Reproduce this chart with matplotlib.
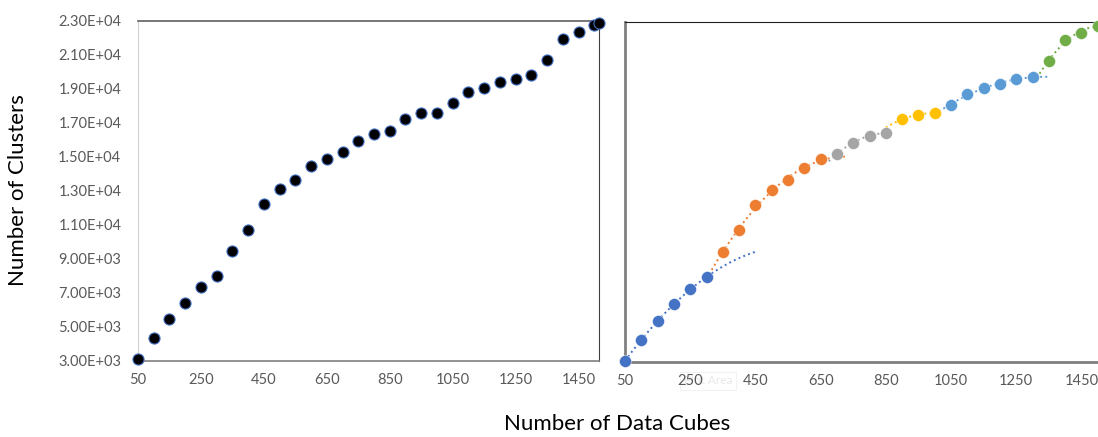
import numpy as np
import matplotlib
matplotlib.use("Agg")
import matplotlib.pyplot as plt

plt.rcParams['font.family'] = ['Lato', 'DejaVu Sans']

# all data cubes vs clusters (left panel)
cubes_all = [50, 100, 150, 200, 250, 300, 350, 400, 450, 500, 550, 600, 650, 700,
             750, 800, 850, 900, 950, 1000, 1050, 1100, 1150, 1200, 1250, 1300,
             1350, 1400, 1450, 1500, 1515]
clusters_all = [3100, 4350, 5430, 6410, 7330, 7970, 9450, 10690, 12240, 13080,
                13630, 14450, 14880, 15260, 15920, 16340, 16490, 17220, 17590,
                17590, 18140, 18820, 19020, 19390, 19550, 19790, 20670, 21910,
                22330, 22730, 22850]

# segmented series (right panel)
seg_x = [
    [50, 100, 150, 200, 250, 300],
    [350, 400, 450, 500, 550, 600, 650],
    [700, 750, 800, 850],
    [900, 950, 1000],
    [1050, 1100, 1150, 1200, 1250, 1300],
    [1350, 1400, 1450, 1500],
]
seg_y = [
    [3060, 4280, 5380, 6380, 7300, 7970],
    [9450, 10780, 12250, 13100, 13690, 14400, 14930],
    [15240, 15910, 16320, 16460],
    [17280, 17560, 17640],
    [18140, 18790, 19110, 19360, 19640, 19780],
    [20720, 21960, 22370, 22800],
]
seg_colors = ['#4472C4', '#ED7D31', '#A5A5A5', '#FFC000', '#5B9BD5', '#70AD47']
# trendline extension (backward, forward) for each segment
trend_ext = [(0, 150), (50, 75), (25, 0), (50, 0), (50, 50), (45, 10)]

xticks = [50, 250, 450, 650, 850, 1050, 1250, 1450]
yticks = [3000, 5000, 7000, 9000, 11000, 13000, 15000, 17000, 19000, 21000, 23000]

W, H = 1098, 437
fig = plt.figure(figsize=(W / 100, H / 100), dpi=100)

tick_color = '#595959'

# left panel
ax1 = fig.add_axes([138 / W, 1 - 360.7 / H, 461 / W, 340 / H])
ax1.plot(cubes_all, clusters_all, 'o', color='black', ms=8, mec='#4472C4',
         mew=0.8, clip_on=False, zorder=3)
ax1.set_xlim(50, 1515)
ax1.set_ylim(3000, 23000)
ax1.set_xticks(xticks)
ax1.set_yticks(yticks)
ax1.set_yticklabels(['%.2fE+%02d' % (v / 10 ** int(np.log10(v)), int(np.log10(v)))
                     for v in yticks])
ax1.tick_params(length=0, labelsize=10.5, colors=tick_color)
ax1.tick_params(axis='y', pad=12)
ax1.tick_params(axis='x', pad=9)
ax1.spines['left'].set_color('#D0D0D0')
ax1.spines['bottom'].set_color('#808080')
ax1.spines['bottom'].set_linewidth(1.2)
ax1.spines['top'].set_color('#606060')
ax1.spines['top'].set_linewidth(1.2)
ax1.spines['right'].set_color('#404040')

# right panel, split into segments with quadratic trendlines
ax2 = fig.add_axes([625 / W, 1 - 361.7 / H, 476 / W, 339.4 / H])
for xs, ys, c, (back, fwd) in zip(seg_x, seg_y, seg_colors, trend_ext):
    coef = np.polyfit(xs, ys, 2)
    xt = np.linspace(xs[0] - back, xs[-1] + fwd, 100)
    ax2.plot(xt, np.polyval(coef, xt), ':', color=c, lw=1.4, zorder=2)
    ax2.plot(xs, ys, 'o', color=c, ms=8.6, mec='white', mew=0.3,
             clip_on=False, zorder=3)
ax2.set_xlim(50, 1510)
ax2.set_ylim(3000, 23000)
ax2.set_xticks(xticks)
ax2.set_yticks([])
ax2.tick_params(length=0, labelsize=10.5, colors=tick_color)
ax2.tick_params(axis='x', pad=9)
ax2.spines['left'].set_color('#808080')
ax2.spines['left'].set_linewidth(2)
ax2.spines['bottom'].set_color('#808080')
ax2.spines['bottom'].set_linewidth(2)
ax2.spines['top'].set_color('#202020')
ax2.spines['right'].set_visible(False)

# faint hover hint left on the chart, sitting behind the tick labels
fig.text(708 / W, 1 - 381 / H, 'Plot Area', fontsize=8.5, color='#E8E8E8',
         ha='center', va='center', zorder=-1,
         bbox=dict(boxstyle='square,pad=0.3', fc='white', ec='#F2F2F2', lw=0.8))

fig.text(18 / W, 1 - 190 / H, 'Number of Clusters', rotation=90, fontsize=16,
         ha='center', va='center', color='black')
fig.text(617 / W, 1 - 424 / H, 'Number of Data Cubes', fontsize=16,
         ha='center', va='center', color='black')

fig.savefig('out.png', dpi=100)
